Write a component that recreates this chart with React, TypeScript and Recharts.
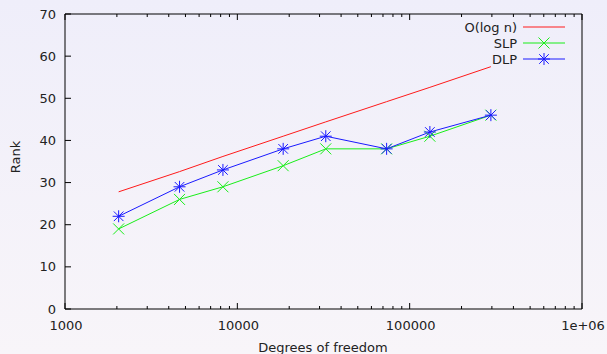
import { LineChart, Line, XAxis, YAxis } from 'recharts'

const dof = [2048, 4620, 8250, 18450, 32600, 73500, 131000, 296000]
const slp = [19, 26, 29, 34, 38, 38, 41, 46]
const dlp = [22, 29, 33, 38, 41, 38, 42, 46]
const ologn = [27.8, 32.6, 36.2, 41.0, 44.4, 49.2, 52.6, 57.5]

const xMajor = [1000, 10000, 100000, 1000000]
const xMinor = [
  2000, 3000, 4000, 5000, 6000, 7000, 8000, 9000,
  20000, 30000, 40000, 50000, 60000, 70000, 80000, 90000,
  200000, 300000, 400000, 500000, 600000, 700000, 800000, 900000,
]
const xTicks = [...xMajor, ...xMinor].sort((a, b) => a - b)
const yTicks = [0, 10, 20, 30, 40, 50, 60, 70]

const data = dof.map((d, i) => ({ dof: d, slp: slp[i], dlp: dlp[i], ologn: ologn[i] }))

const FONT = '"DejaVu Sans", sans-serif'
const FS = 13
const TXT = '#222'
const RED = '#ff1a1a'
const GREEN = '#19ee19'
const BLUE = '#1a1aff'

function fmtX(v: number): string {
  return v >= 1000000 ? '1e+06' : String(v)
}

function BottomTick({ x, y, payload }: any) {
  const major = xMajor.includes(payload.value)
  return (
    <g>
      <line x1={x} x2={x} y1={y} y2={y - (major ? 6 : 3)} stroke="#000" />
      {major && (
        <text x={x + 1} y={y + 21} textAnchor="middle" fontSize={FS} fontFamily={FONT} fill={TXT}>
          {fmtX(payload.value)}
        </text>
      )}
    </g>
  )
}

function TopTick({ x, y, payload }: any) {
  const major = xMajor.includes(payload.value)
  return <line x1={x} x2={x} y1={y} y2={y + (major ? 6 : 3)} stroke="#000" />
}

function LeftTick({ x, y, payload }: any) {
  return (
    <g>
      <line x1={x} x2={x + 6} y1={y} y2={y} stroke="#000" />
      <text x={x - 9} y={y + 4.5} textAnchor="end" fontSize={FS} fontFamily={FONT} fill={TXT}>
        {payload.value}
      </text>
    </g>
  )
}

function RightTick({ x, y }: any) {
  return <line x1={x} x2={x - 6} y1={y} y2={y} stroke="#000" />
}

function Cross({ cx, cy, color, r = 5.5 }: { cx: number; cy: number; color: string; r?: number }) {
  return (
    <path d={`M${cx - r},${cy - r}L${cx + r},${cy + r}M${cx - r},${cy + r}L${cx + r},${cy - r}`} stroke={color} strokeWidth={1} fill="none" />
  )
}

function Star({ cx, cy, color, r = 6 }: { cx: number; cy: number; color: string; r?: number }) {
  const d = r * 0.8
  return (
    <path
      d={`M${cx - r},${cy}L${cx + r},${cy}M${cx},${cy - r}L${cx},${cy + r}M${cx - d},${cy - d}L${cx + d},${cy + d}M${cx - d},${cy + d}L${cx + d},${cy - d}`}
      stroke={color}
      strokeWidth={1}
      fill="none"
    />
  )
}

function Legend() {
  const rows = [
    { label: 'O(log n)', color: RED, mark: null },
    { label: 'SLP', color: GREEN, mark: 'x' },
    { label: 'DLP', color: BLUE, mark: '*' },
  ]
  return (
    <svg width={607} height={354} style={{ position: 'absolute', left: 0, top: 0, pointerEvents: 'none' }}>
      {rows.map((r, i) => {
        const y = 27 + i * 16
        return (
          <g key={r.label}>
            <text x={517} y={y + 4.5} textAnchor="end" fontSize={FS} fontFamily={FONT} fill={TXT}>
              {r.label}
            </text>
            <line x1={523} x2={565} y1={y} y2={y} stroke={r.color} />
            {r.mark === 'x' && <Cross cx={544} cy={y} color={r.color} />}
            {r.mark === '*' && <Star cx={544} cy={y} color={r.color} />}
          </g>
        )
      })}
    </svg>
  )
}

export default function App() {
  return (
    <div
      style={{
        position: 'absolute',
        left: 0,
        top: 0,
        width: 607,
        height: 354,
        background: 'linear-gradient(#efeefa, #f8f5f9)',
        overflow: 'hidden',
      }}
    >
      <LineChart width={607} height={354} data={data} margin={{ top: 0, right: 0, bottom: 0, left: 0 }}>
        <XAxis
          dataKey="dof"
          type="number"
          scale="log"
          domain={[1000, 1000000]}
          ticks={xTicks}
          interval={0}
          height={45}
          tickSize={0}
          tickMargin={0}
          tickLine={false}
          axisLine={{ stroke: '#000' }}
          tick={<BottomTick />}
          allowDataOverflow
        />
        <XAxis
          xAxisId="top"
          orientation="top"
          dataKey="dof"
          type="number"
          scale="log"
          domain={[1000, 1000000]}
          ticks={xTicks}
          interval={0}
          height={14}
          tickSize={0}
          tickMargin={0}
          tickLine={false}
          axisLine={{ stroke: '#000' }}
          tick={<TopTick />}
          allowDataOverflow
        />
        <YAxis
          type="number"
          domain={[0, 70]}
          ticks={yTicks}
          interval={0}
          width={65}
          tickSize={0}
          tickMargin={0}
          tickLine={false}
          axisLine={{ stroke: '#000' }}
          tick={<LeftTick />}
        />
        <YAxis
          yAxisId="right"
          orientation="right"
          type="number"
          domain={[0, 70]}
          ticks={yTicks}
          interval={0}
          width={25}
          tickSize={0}
          tickMargin={0}
          tickLine={false}
          axisLine={{ stroke: '#000' }}
          tick={<RightTick />}
        />
        <Line dataKey="ologn" type="linear" stroke={RED} strokeWidth={1} dot={false} isAnimationActive={false} />
        <Line
          dataKey="slp"
          type="linear"
          stroke={GREEN}
          strokeWidth={1}
          dot={(p: any) => <Cross key={`s${p.index}`} cx={p.cx} cy={p.cy} color={GREEN} />}
          isAnimationActive={false}
        />
        <Line
          dataKey="dlp"
          type="linear"
          stroke={BLUE}
          strokeWidth={1}
          dot={(p: any) => <Star key={`d${p.index}`} cx={p.cx} cy={p.cy} color={BLUE} />}
          isAnimationActive={false}
        />
      </LineChart>
      <svg width={607} height={354} style={{ position: 'absolute', left: 0, top: 0, pointerEvents: 'none' }}>
        <text x={15} y={157} transform="rotate(-90 15 157)" textAnchor="middle" dominantBaseline="central" fontSize={FS} fontFamily={FONT} fill={TXT}>
          Rank
        </text>
        <text x={323} y={352} textAnchor="middle" fontSize={FS} fontFamily={FONT} fill={TXT}>
          Degrees of freedom
        </text>
      </svg>
      <Legend />
    </div>
  )
}
